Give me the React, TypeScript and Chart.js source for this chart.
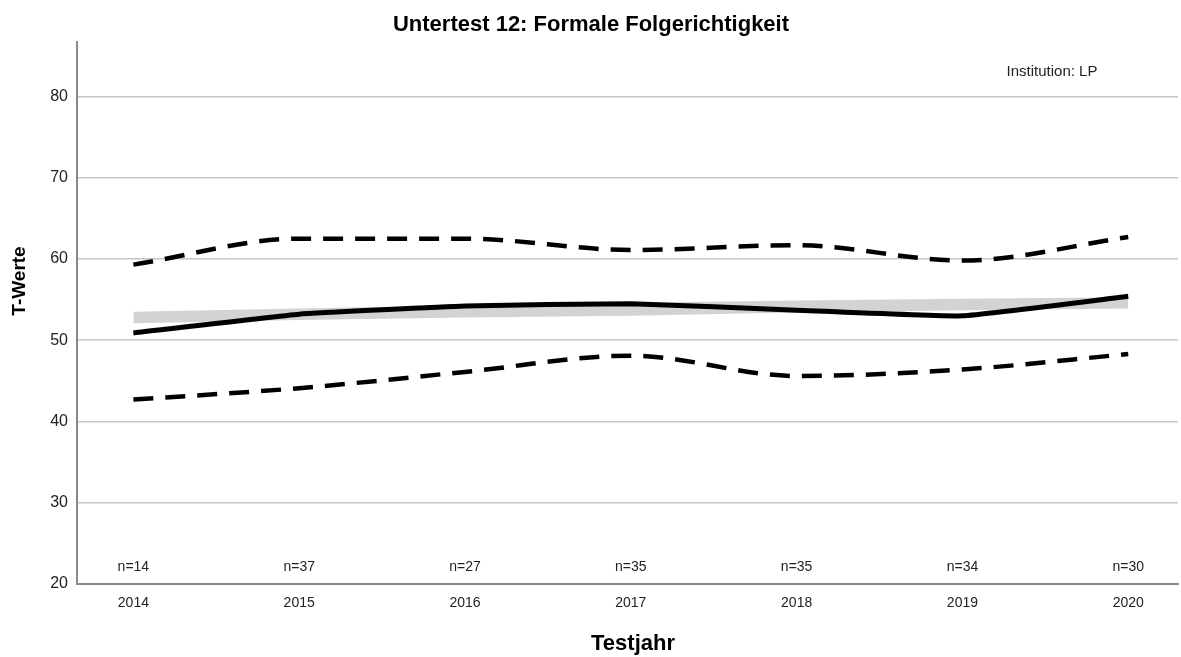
import React, { useEffect, useRef } from "react";
import { Chart, registerables } from "chart.js";

Chart.register(...registerables);

const years = [2014, 2015, 2016, 2017, 2018, 2019, 2020];
const nLabels = ["n=14", "n=37", "n=27", "n=35", "n=35", "n=34", "n=30"];
const meanValues = [50.9, 53.2, 54.2, 54.5, 53.7, 53.0, 55.4];
const upperValues = [59.3, 62.5, 62.5, 61.1, 61.7, 59.8, 62.7];
const lowerValues = [42.7, 44.1, 46.1, 48.1, 45.6, 46.4, 48.3];
const bandHigh = [53.5, 53.9, 54.3, 54.6, 54.9, 55.1, 55.3];
const bandLow = [52.1, 52.5, 52.8, 53.0, 53.4, 53.7, 53.9];
const yTicks = [20, 30, 40, 50, 60, 70, 80];

const FONT = "'Liberation Sans', Arial, sans-serif";

const pts = (vals: number[]) => years.map((x, i) => ({ x, y: vals[i] }));

export default function App() {
  const ref = useRef<HTMLCanvasElement | null>(null);
  useEffect(() => {
    if (!ref.current) return;
    const textPlugin = {
      id: "texts",
      afterDraw(chart: any) {
        const ctx = chart.ctx;
        const xs = chart.scales.x;
        ctx.save();
        ctx.fillStyle = "#000";
        ctx.textAlign = "center";
        ctx.textBaseline = "middle";
        ctx.font = `bold 22px ${FONT}`;
        ctx.fillText("Untertest 12: Formale Folgerichtigkeit", 591, 25);
        ctx.font = `bold 22px ${FONT}`;
        ctx.fillText("Testjahr", 633, 644);
        ctx.save();
        ctx.translate(20, 281);
        ctx.rotate(-Math.PI / 2);
        ctx.font = `bold 19px ${FONT}`;
        ctx.fillText("T-Werte", 0, 0);
        ctx.restore();
        ctx.fillStyle = "#222";
        ctx.font = `14px ${FONT}`;
        years.forEach((y, i) => {
          ctx.fillText(nLabels[i], xs.getPixelForValue(y), 567);
        });
        ctx.font = `15px ${FONT}`;
        ctx.fillText("Institution: LP", 1052, 72);
        ctx.restore();
      },
    };
    const chart = new Chart(ref.current, {
      type: "line",
      data: {
        datasets: [
          {
            data: pts(meanValues),
            borderColor: "#000",
            borderWidth: 5,
            pointRadius: 0,
            tension: 0.1,
            fill: false,
          },
          {
            data: pts(upperValues),
            borderColor: "#000",
            borderWidth: 4.5,
            borderDash: [20, 12],
            pointRadius: 0,
            cubicInterpolationMode: "monotone",
            fill: false,
          },
          {
            data: pts(lowerValues),
            borderColor: "#000",
            borderWidth: 4.5,
            borderDash: [20, 12],
            pointRadius: 0,
            cubicInterpolationMode: "monotone",
            fill: false,
          },
          {
            data: pts(bandLow),
            borderWidth: 0,
            borderColor: "rgba(0,0,0,0)",
            pointRadius: 0,
            tension: 0,
            fill: false,
          },
          {
            data: pts(bandHigh),
            borderWidth: 0,
            borderColor: "rgba(0,0,0,0)",
            backgroundColor: "#d3d3d3",
            pointRadius: 0,
            tension: 0,
            fill: "-1",
          },
        ],
      },
      options: {
        animation: false,
        responsive: false,
        layout: { padding: { top: 42, right: 3, left: 0, bottom: 0 } },
        plugins: {
          legend: { display: false },
          tooltip: { enabled: false },
          title: { display: false },
        },
        scales: {
          x: {
            type: "linear",
            min: 2013.66,
            max: 2020.3,
            afterBuildTicks: (s: any) => {
              s.ticks = years.map((v) => ({ value: v }));
            },
            afterFit: (s: any) => {
              s.height = 73;
            },
            grid: { display: false, drawTicks: false },
            border: { display: true, color: "#8a8a8a", width: 2 },
            ticks: {
              padding: 11,
              color: "#222",
              font: { family: FONT, size: 14 },
              callback: (v: any) => String(v),
              maxRotation: 0,
              autoSkip: false,
            },
          },
          y: {
            type: "linear",
            min: 20,
            max: 86.7,
            afterBuildTicks: (s: any) => {
              s.ticks = yTicks.map((v) => ({ value: v }));
            },
            afterFit: (s: any) => {
              s.width = 77;
            },
            grid: {
              color: (c: any) => (c.tick && c.tick.value === 20 ? "rgba(0,0,0,0)" : "#c6c6c6"),
              lineWidth: 1.5,
              drawTicks: false,
            },
            border: { display: true, color: "#8a8a8a", width: 2 },
            ticks: {
              padding: 9,
              color: "#222",
              font: { family: FONT, size: 16 },
            },
          },
        },
      },
      plugins: [textPlugin],
    } as any);
    return () => chart.destroy();
  }, []);
  return (
    <div style={{ position: "absolute", left: 0, top: 0, width: 1181, height: 657, background: "#fff" }}>
      <canvas ref={ref} width={1181} height={657} />
    </div>
  );
}
